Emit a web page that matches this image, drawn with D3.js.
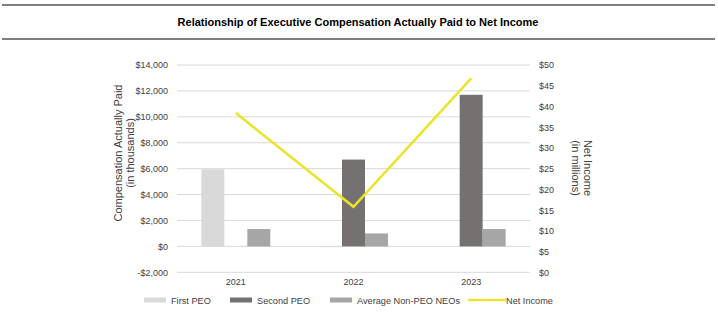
<!doctype html>
<html lang="en">
<head>
<meta charset="utf-8">
<title>Relationship of Executive Compensation Actually Paid to Net Income</title>
<style>
  body { margin: 0; background: #fff; }
  svg text { font-family: "Liberation Sans", Arial, sans-serif; fill: #262626; }
</style>
</head>
<body>
<div id="chart"></div>
<script src="https://d3js.org/d3.v7.min.js"></script>
<script>
// chart values (compensation in thousands, net income in millions)
var years = ["2021", "2022", "2023"];
var seriesNames = ["First PEO", "Second PEO", "Average Non-PEO NEOs"];
var firstPeo = [5950, -60, 0];
var secondPeo = [0, 6700, 11700];
var avgNonPeo = [1340, 1000, 1340];
var netIncome = [38.4, 15.8, 46.8];
var leftTicks = [-2000, 0, 2000, 4000, 6000, 8000, 10000, 12000, 14000];
var rightTicks = [0, 5, 10, 15, 20, 25, 30, 35, 40, 45, 50];

var colors = ["#d9d9d9", "#767171", "#a6a6a6"];
var lineColor = "#ebe42b";

var width = 718, height = 330;
var svg = d3.select("#chart").append("svg")
    .attr("width", width)
    .attr("height", height);

// title with rules above and below
svg.append("line").attr("x1", 2).attr("x2", 715).attr("y1", 5).attr("y2", 5)
    .attr("stroke", "#000").attr("stroke-width", 1.2);
svg.append("line").attr("x1", 2).attr("x2", 715).attr("y1", 39).attr("y2", 39)
    .attr("stroke", "#000").attr("stroke-width", 1.2);
svg.append("text")
    .attr("x", 358).attr("y", 26)
    .attr("text-anchor", "middle")
    .style("font-size", "11px").style("font-weight", "bold")
    .style("fill", "#000")
    .text("Relationship of Executive Compensation Actually Paid to Net Income");

var plot = { left: 177, right: 530, top: 65, bottom: 272.3 };

var x = d3.scaleBand().domain(years).range([plot.left, plot.right]);
var xSub = d3.scaleBand().domain(seriesNames)
    .range([0, x.bandwidth()]).paddingOuter(1.06);
var yLeft = d3.scaleLinear().domain([-2000, 14000]).range([plot.bottom, plot.top]);
var yRight = d3.scaleLinear().domain([0, 50]).range([plot.bottom, plot.top]);

// gridlines
svg.append("g").selectAll("line").data(leftTicks).join("line")
    .attr("x1", plot.left).attr("x2", plot.right)
    .attr("y1", function(d) { return yLeft(d); })
    .attr("y2", function(d) { return yLeft(d); })
    .attr("stroke", "#d9d9d9").attr("stroke-width", 1);

// left axis
var fmtLeft = function(d) { return (d < 0 ? "-$" : "$") + d3.format(",")(Math.abs(d)); };
var gl = svg.append("g").attr("transform", "translate(" + plot.left + ",0)")
    .call(d3.axisLeft(yLeft).tickValues(leftTicks).tickFormat(fmtLeft).tickSize(0).tickPadding(9));
gl.select(".domain").remove();
gl.selectAll("text").style("font-size", "9px").style("fill", "#404040");

// right axis
var gr = svg.append("g").attr("transform", "translate(" + plot.right + ",0)")
    .call(d3.axisRight(yRight).tickValues(rightTicks).tickFormat(function(d) { return "$" + d; }).tickSize(0).tickPadding(9));
gr.select(".domain").remove();
gr.selectAll("text").style("font-size", "9px").style("fill", "#404040");

// x axis labels
var gx = svg.append("g").attr("transform", "translate(0," + plot.bottom + ")")
    .call(d3.axisBottom(x).tickSize(0).tickPadding(6));
gx.select(".domain").remove();
gx.selectAll("text").style("font-size", "9px").style("fill", "#404040");

// bars
var values = [firstPeo, secondPeo, avgNonPeo];
var barData = [];
seriesNames.forEach(function(name, s) {
  years.forEach(function(yr, i) {
    barData.push({ series: name, idx: s, year: yr, value: values[s][i] });
  });
});
svg.append("g").selectAll("rect").data(barData).join("rect")
    .attr("x", function(d) { return x(d.year) + xSub(d.series); })
    .attr("width", xSub.bandwidth())
    .attr("y", function(d) { return yLeft(Math.max(0, d.value)); })
    .attr("height", function(d) { return Math.abs(yLeft(d.value) - yLeft(0)); })
    .attr("fill", function(d) { return colors[d.idx]; });

// net income line
var line = d3.line()
    .x(function(d, i) { return x(years[i]) + x.bandwidth() / 2; })
    .y(function(d) { return yRight(d); });
svg.append("path").datum(netIncome)
    .attr("d", line)
    .attr("fill", "none")
    .attr("stroke", lineColor)
    .attr("stroke-width", 2.6);

// axis titles
var leftTitle = svg.append("text")
    .attr("transform", "translate(122,153) rotate(-90)")
    .attr("text-anchor", "middle")
    .style("font-size", "11px").style("fill", "#404040");
leftTitle.append("tspan").attr("x", 0).attr("dy", 0).text("Compensation Actually Paid");
leftTitle.append("tspan").attr("x", 0).attr("dy", 12).text("(in thousands)");

var rightTitle = svg.append("text")
    .attr("transform", "translate(584,168) rotate(90)")
    .attr("text-anchor", "middle")
    .style("font-size", "11px").style("fill", "#404040");
rightTitle.append("tspan").attr("x", 0).attr("dy", 0).text("Net Income");
rightTitle.append("tspan").attr("x", 0).attr("dy", 12).text("(in millions)");

// legend
var legendItems = [
  { name: "First PEO", color: colors[0], type: "bar", x: 144 },
  { name: "Second PEO", color: colors[1], type: "bar", x: 230 },
  { name: "Average Non-PEO NEOs", color: colors[2], type: "bar", x: 330 },
  { name: "Net Income", color: lineColor, type: "line", x: 468 }
];
var lg = svg.append("g").selectAll("g").data(legendItems).join("g")
    .attr("transform", function(d) { return "translate(" + d.x + ",300)"; });
lg.append("rect")
    .attr("x", 0).attr("y", function(d) { return d.type === "bar" ? -2.5 : -1.2; })
    .attr("width", function(d) { return d.type === "bar" ? 22 : 38; })
    .attr("height", function(d) { return d.type === "bar" ? 5 : 2.4; })
    .attr("fill", function(d) { return d.color; });
lg.append("text")
    .attr("x", function(d) { return d.type === "bar" ? 27 : 38; })
    .attr("y", 3.5)
    .style("font-size", "9.2px").style("fill", "#404040")
    .text(function(d) { return d.name; });
</script>
</body>
</html>
